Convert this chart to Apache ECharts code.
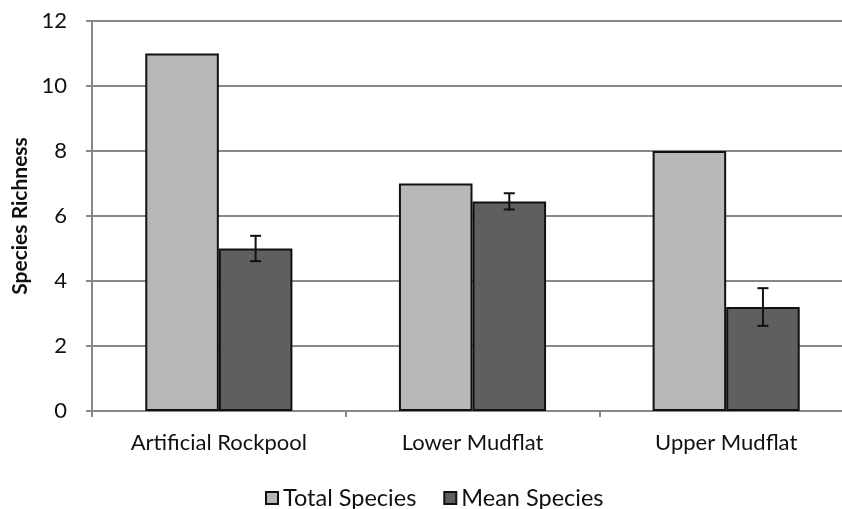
<!DOCTYPE html>
<html>
<head>
<meta charset="utf-8">
<script src="https://cdn.jsdelivr.net/npm/echarts@6/dist/echarts.min.js"></script>
<style>html,body{margin:0;padding:0;background:#fff;overflow:hidden;width:842px;height:509px}#c{width:853px;height:509px}</style>
</head>
<body>
<div id="c"></div>
<script>
var categories = ['Artificial Rockpool', 'Lower Mudflat', 'Upper Mudflat'];
var totalSpecies = [11, 7, 8];
var meanSpecies = [5.0, 6.45, 3.2];
var meanError = [0.39, 0.25, 0.58];
var yTicks = [0, 2, 4, 6, 8, 10, 12];

var FONT = 'Lato';
var chart = echarts.init(document.getElementById('c'), null, {renderer: 'canvas'});
var errData = categories.map(function (c, i) {
  return [i, meanSpecies[i] - meanError[i], meanSpecies[i] + meanError[i]];
});
chart.setOption({
  animation: false,
  backgroundColor: '#ffffff',
  textStyle: {fontFamily: FONT},
  grid: {left: 92, right: 0, top: 21, height: 390, containLabel: false},
  legend: {
    data: ['Total Species', 'Mean Species'],
    left: 260, top: 481,
    itemWidth: 12, itemHeight: 12, itemGap: 27,
    icon: 'rect',
    textStyle: {fontFamily: FONT, fontSize: 23.5, color: '#111'}
  },
  xAxis: {
    type: 'category',
    data: categories,
    axisLine: {lineStyle: {color: '#888', width: 2}},
    axisTick: {show: true, length: 6, lineStyle: {color: '#888', width: 2}},
    axisLabel: {fontFamily: FONT, fontSize: 22, color: '#111', margin: 21}
  },
  yAxis: {
    type: 'value',
    min: yTicks[0], max: yTicks[yTicks.length - 1], interval: 2,
    name: 'Species Richness',
    nameLocation: 'middle',
    nameGap: 53,
    nameTextStyle: {fontFamily: FONT, fontSize: 21, fontWeight: 'bold', color: '#111'},
    axisLine: {show: true, lineStyle: {color: '#888', width: 2}},
    axisTick: {show: true, length: 6, lineStyle: {color: '#888', width: 2}},
    axisLabel: {fontFamily: FONT, fontSize: 22, color: '#111', margin: 25},
    splitLine: {show: true, lineStyle: {color: '#888', width: 2}}
  },
  series: [
    {
      name: 'Total Species', type: 'bar', data: totalSpecies,
      barGap: '0%', barCategoryGap: '42%',
      itemStyle: {color: '#b8b8b8', borderColor: '#111', borderWidth: 2}
    },
    {
      name: 'Mean Species', type: 'bar', data: meanSpecies,
      barGap: '0%', barCategoryGap: '42%',
      itemStyle: {color: '#5f5f5f', borderColor: '#111', borderWidth: 2}
    },
    {
      name: 'err', type: 'custom', data: errData, z: 10,
      renderItem: function (params, api) {
        var i = api.value(0);
        var lo = api.coord([i, api.value(1)]);
        var hi = api.coord([i, api.value(2)]);
        var bw = api.size([1, 0])[0];
        var x = lo[0] + bw * 0.29 * 0.5;
        var h = 5.5;
        var st = {stroke: '#111', lineWidth: 2, fill: null};
        return {
          type: 'group',
          children: [
            {type: 'line', shape: {x1: x, y1: hi[1], x2: x, y2: lo[1]}, style: st},
            {type: 'line', shape: {x1: x - h, y1: hi[1], x2: x + h, y2: hi[1]}, style: st},
            {type: 'line', shape: {x1: x - h, y1: lo[1], x2: x + h, y2: lo[1]}, style: st}
          ]
        };
      }
    }
  ]
});
</script>
</body>
</html>
